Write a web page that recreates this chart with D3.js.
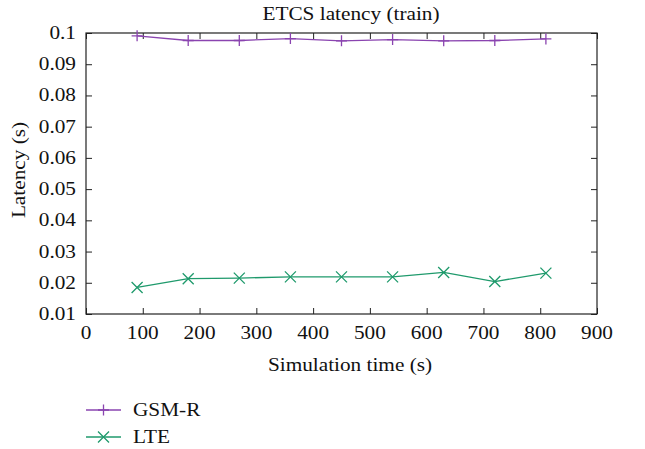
<!DOCTYPE html>
<html><head><meta charset="utf-8">
<script src="https://cdn.jsdelivr.net/npm/d3@7"></script>
<style>body{margin:0;background:#fff}svg{display:block}</style>
</head><body>
<script>
const times = [90, 180, 270, 360, 450, 540, 630, 720, 810];
const gsmr = [0.0991, 0.0976, 0.0976, 0.0982, 0.0975, 0.0979, 0.0975, 0.0976, 0.0981];
const lte = [0.0185, 0.0213, 0.0215, 0.0219, 0.0219, 0.0219, 0.0233, 0.0204, 0.0231];
const xTicks = [0, 100, 200, 300, 400, 500, 600, 700, 800, 900];
const yTicks = [0.01, 0.02, 0.03, 0.04, 0.05, 0.06, 0.07, 0.08, 0.09, 0.1];
const seriesNames = ["GSM-R", "LTE"];
const colors = ["#8a44b0", "#1f9a6c"];

const W = 645, H = 449;
const L = 86, R = 597, T = 33, B = 314;
const FS = 19, SX = 1.12;
const font = "'Liberation Serif', 'DejaVu Serif', serif";
const svg = d3.select("body").append("svg").attr("width", W).attr("height", H)
  .style("font-family", font);

const x = d3.scaleLinear().domain([0, 900]).range([L, R]);
const y = d3.scaleLinear().domain([0.01, 0.1]).range([B, T]);
const fmtY = d => String(+d.toFixed(2));

function txt(parent, px, py, anchor, s) {
  return parent.append("text").attr("transform", `translate(${px},${py}) scale(${SX},1)`)
    .attr("text-anchor", anchor).style("font-size", FS + "px").attr("fill", "#111").text(s);
}

function ticksOnly(g) {
  g.selectAll(".domain").remove();
  g.selectAll("line").attr("stroke", "#222").attr("stroke-width", 1);
  g.selectAll("text").remove();
}
const axB = svg.append("g").attr("transform", `translate(0,${B})`)
  .call(d3.axisBottom(x).tickValues(xTicks).tickSizeInner(-6).tickSizeOuter(0));
const axT = svg.append("g").attr("transform", `translate(0,${T})`)
  .call(d3.axisTop(x).tickValues(xTicks).tickSizeInner(-6).tickSizeOuter(0));
const axL = svg.append("g").attr("transform", `translate(${L},0)`)
  .call(d3.axisLeft(y).tickValues(yTicks).tickSizeInner(-6).tickSizeOuter(0));
const axR = svg.append("g").attr("transform", `translate(${R},0)`)
  .call(d3.axisRight(y).tickValues(yTicks).tickSizeInner(-6).tickSizeOuter(0));
[axB, axT, axL, axR].forEach(ticksOnly);

xTicks.forEach(v => txt(svg, x(v), B + 25, "middle", String(v)));
yTicks.forEach(v => txt(svg, L - 10, y(v) + 6, "end", fmtY(v)));

svg.append("rect").attr("x", L).attr("y", T).attr("width", R - L).attr("height", B - T)
  .attr("fill", "none").attr("stroke", "#222").attr("stroke-width", 1.2);

txt(svg, 351, 20, "middle", "ETCS latency (train)");
txt(svg, 350, 371, "middle", "Simulation time (s)");
svg.append("text").attr("transform", `translate(25,170) rotate(-90) scale(${SX},1)`).attr("text-anchor", "middle")
  .style("font-size", FS + "px").attr("fill", "#111").text("Latency (s)");

function plus(g, cx, cy, c) {
  g.append("path").attr("d", `M${cx-5.5},${cy}H${cx+5.5}M${cx},${cy-5.5}V${cy+5.5}`).attr("stroke", c).attr("stroke-width", 1.3).attr("fill", "none");
}
function cross(g, cx, cy, c) {
  g.append("path").attr("d", `M${cx-5.5},${cy-5.5}L${cx+5.5},${cy+5.5}M${cx-5.5},${cy+5.5}L${cx+5.5},${cy-5.5}`).attr("stroke", c).attr("stroke-width", 1.3).attr("fill", "none");
}
const markers = [plus, cross];
const data = [gsmr, lte];
const line = d3.line().x((d, i) => x(times[i])).y(d => y(d));
data.forEach((vals, s) => {
  const g = svg.append("g");
  g.append("path").datum(vals).attr("d", line).attr("fill", "none").attr("stroke", colors[s]).attr("stroke-width", 1.3);
  vals.forEach((v, i) => markers[s](g, x(times[i]), y(v), colors[s]));
});

seriesNames.forEach((name, s) => {
  const ly = 410 + s * 27;
  const g = svg.append("g");
  g.append("line").attr("x1", 86).attr("x2", 121).attr("y1", ly).attr("y2", ly).attr("stroke", colors[s]).attr("stroke-width", 1.3);
  markers[s](g, 103.5, ly, colors[s]);
  txt(g, 133, ly + 6, "start", name);
});
</script>
</body></html>
